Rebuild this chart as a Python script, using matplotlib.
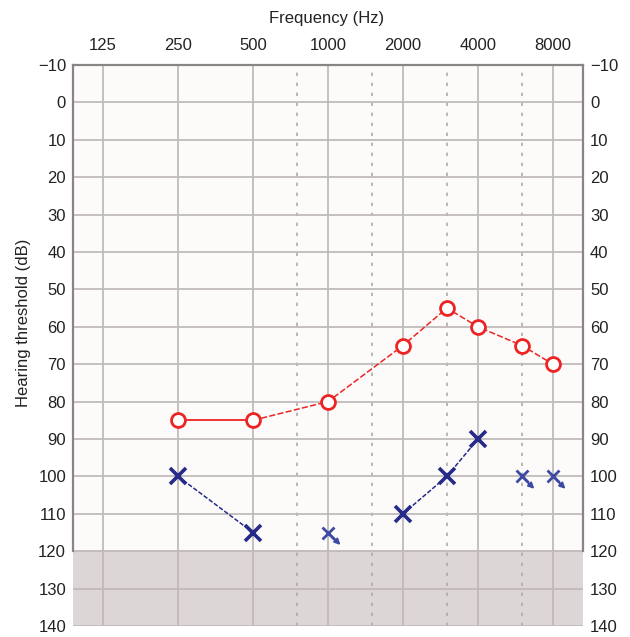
import numpy as np
import matplotlib
matplotlib.use("Agg")
import matplotlib.pyplot as plt

plt.rcParams["font.family"] = ["Liberation Sans", "DejaVu Sans"]

# audiogram values
freq_ticks = [125, 250, 500, 1000, 2000, 4000, 8000]
half_octaves = [750, 1500, 3000, 6000]

red_freq = [250, 500, 1000, 2000, 3000, 4000, 6000, 8000]
red_db = [85, 85, 80, 65, 55, 60, 65, 70]

blue_freq_a = [250, 500]
blue_db_a = [100, 115]
blue_freq_b = [2000, 3000, 4000]
blue_db_b = [110, 100, 90]

noresp_freq = [1000, 6000, 8000]
noresp_db = [115, 100, 100]

fig = plt.figure(figsize=(6.3, 6.37), dpi=100)
ax = fig.add_axes([73 / 630, 11 / 637, 510 / 630, 561 / 637])
ax.set_xscale("log", base=2)
ax.set_xlim(125 * 2 ** -0.4, 8000 * 2 ** 0.4)
ax.set_ylim(140, -10)
ax.set_facecolor("#fcfbfa")

# gray "no hearing" band
ax.axhspan(120, 140, color="#ddd6d6", zorder=0)

grid_c = "#c2baba"
for f in freq_ticks:
    ax.axvline(f, color=grid_c, lw=1.3, zorder=1)
for f in half_octaves:
    ax.axvline(f, color="#b0aaaa", lw=1.2, ls=(0, (2, 4)), zorder=1)
for d in range(0, 141, 10):
    ax.axhline(d, color=grid_c, lw=1.3, zorder=1)

ax.spines["bottom"].set_visible(False)
for s in ["left", "right"]:
    ax.spines[s].set_bounds(-10, 120)
for s in ["left", "right", "top"]:
    ax.spines[s].set_color("#8a8585")
    ax.spines[s].set_linewidth(1.6)

ax.set_yticks(range(-10, 141, 10))
ax.set_yticklabels(["\u221210"] + [str(v) for v in range(0, 141, 10)])
ax.tick_params(axis="y", length=0, pad=5, labelsize=12, labelcolor="#222222",
               labelright=True, right=False)
ax.set_xticks(freq_ticks)
ax.set_xticklabels([str(f) for f in freq_ticks])
ax.xaxis.set_minor_locator(matplotlib.ticker.NullLocator())
ax.tick_params(axis="x", length=0, pad=9, labelsize=12, labelcolor="#222222",
               labeltop=True, labelbottom=False, top=False, bottom=False)

ax.set_ylabel("Hearing threshold (dB)", fontsize=12, color="#222222")
ax.yaxis.set_label_coords(-0.082, 0.54)
fig.text(327 / 630, 1 - 18 / 637, "Frequency (Hz)", ha="center", va="center",
         fontsize=12, color="#222222")

red = "#ec2424"
ax.plot(red_freq[:2], red_db[:2], color=red, lw=1.3, zorder=3)
ax.plot(red_freq[1:], red_db[1:], color=red, lw=1.1, ls=(0, (4, 1.5)), zorder=3)
ax.plot(red_freq, red_db, ls="none", marker="o", ms=10, mfc="white",
        mec=red, mew=2, zorder=4)

navy = "#262b8a"
for fx, dy in [(blue_freq_a, blue_db_a), (blue_freq_b, blue_db_b)]:
    ax.plot(fx, dy, color=navy, lw=1.1, ls=(0, (3, 1.2)), zorder=3)
    ax.plot(fx, dy, ls="none", marker="x", ms=11, mec=navy, mew=2.6, zorder=4)

light = "#3c4aa6"
ax.plot(noresp_freq, noresp_db, ls="none", marker="x", ms=9, mec=light,
        mew=2, zorder=4)
for f, d in zip(noresp_freq, noresp_db):
    ax.annotate("", xy=(f, d), xytext=(9, -9), textcoords="offset points",
                xycoords="data",
                arrowprops=dict(arrowstyle="<|-", color=light, lw=1.5,
                                shrinkA=0, shrinkB=2, mutation_scale=8),
                zorder=4)

fig.savefig("out.png", dpi=100)
